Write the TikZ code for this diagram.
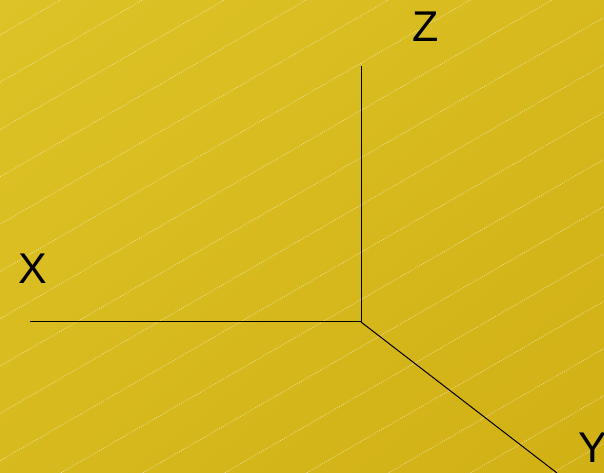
\documentclass[tikz,border=0pt]{standalone}
\usepackage{fontspec}
\setmainfont{Liberation Sans}
\usetikzlibrary{shadings}
\definecolor{bgA}{RGB}{221,195,39}
\definecolor{bgB}{RGB}{209,176,20}
\tikzset{
  axis/.style={draw=black, line width=1pt},
  axislabel/.style={font=\fontsize{43}{43}\selectfont, text=black, inner sep=0pt},
  hatch/.style={draw=white, draw opacity=0.55, line width=0.7pt, dash pattern=on 1pt off 1.2pt}
}
\begin{document}
\begin{tikzpicture}[x=1pt,y=1pt]
\useasboundingbox (0,0) rectangle (604,473);
\shade[upper left=bgA, lower right=bgB, upper right=bgA!50!bgB, lower left=bgA!50!bgB] (0,0) rectangle (604,473);
\begin{scope}
\clip (0,0) rectangle (604,473);
\foreach \k in {-1,...,18}{
  \draw[hatch] (0,{438-47.3*\k}) -- (604,{438-47.3*\k+604*0.5774});
}
\end{scope}
\coordinate (O) at (361,151);
\coordinate (Zend) at (361,407);
\coordinate (Xend) at (30,151);
\coordinate (Yend) at (557,0);
\draw[axis] (O) -- (Zend);
\draw[axis] (O) -- (Xend);
\draw[axis] (O) -- (Yend);
\node[axislabel] (Z) at (426,446) {Z};
\node[axislabel] (X) at (33,204) {X};
\node[axislabel] (Y) at (593,25) {Y};
\end{tikzpicture}
\end{document}
